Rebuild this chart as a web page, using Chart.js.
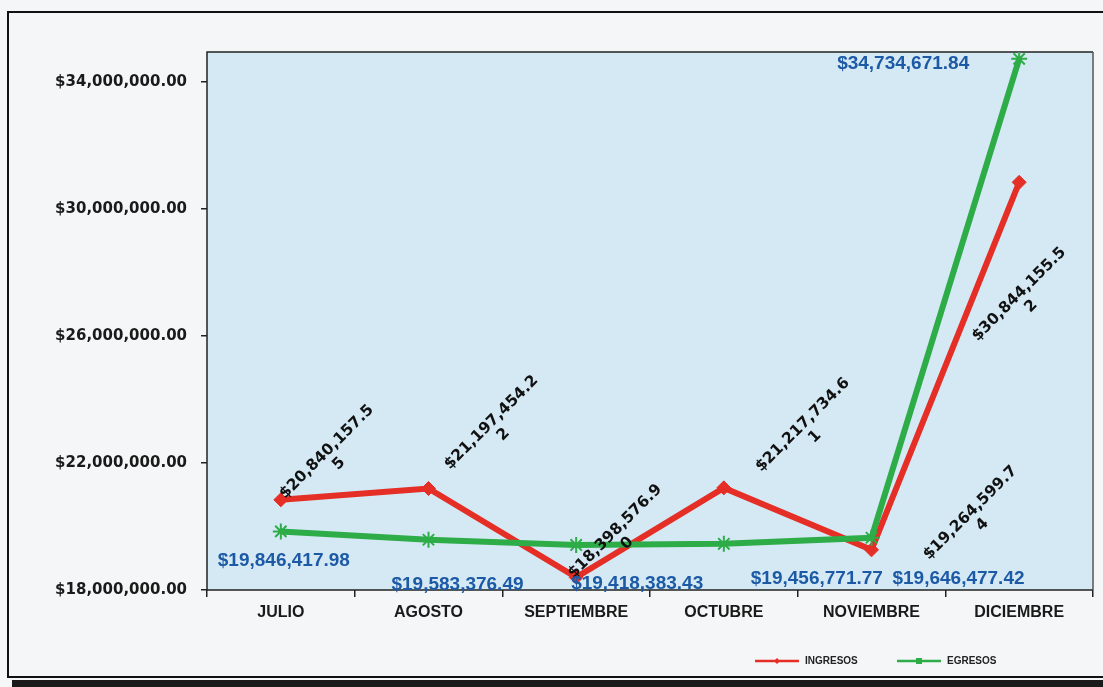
<!DOCTYPE html>
<html>
<head>
<meta charset="utf-8">
<script src="https://cdn.jsdelivr.net/npm/chart.js@4.4.1/dist/chart.umd.min.js"></script>
<style>
  html, body { margin: 0; padding: 0; background: #f5f6f7; }
  #wrap { width: 1103px; height: 687px; position: relative; }
</style>
</head>
<body>
<div id="wrap"><canvas id="c" width="1103" height="687"></canvas></div>
<script>
// ---- data ----
const categories = ['JULIO', 'AGOSTO', 'SEPTIEMBRE', 'OCTUBRE', 'NOVIEMBRE', 'DICIEMBRE'];
const ingresos = [20840157.55, 21197454.22, 18398576.90, 21217734.61, 19264599.74, 30844155.52];
const egresos  = [19846417.98, 19583376.49, 19418383.43, 19456771.77, 19646477.42, 34734671.84];
const yTicks   = [18000000, 22000000, 26000000, 30000000, 34000000];
const seriesNames = ['INGRESOS', 'EGRESOS'];

// ---- styling ----
const RED = '#e42e26';
const GREEN = '#2dac48';
const BLUE = '#1d5aa6';
const PLOT_BG = '#d5e9f4';
// label offsets (px) relative to each point
const ingOffsets = [[52,-42],[69,-60],[45,-40],[85,-57],[105,-31],[6,118]];
const egrOffsets = [[3,29],[29,45],[61,39],[93,35],[87,41],[-116,5]];

function money(v) {
  return '$' + v.toLocaleString('en-US', {minimumFractionDigits: 2, maximumFractionDigits: 2});
}

const framePlugin = {
  id: 'frame',
  beforeDraw(chart) {
    const ctx = chart.ctx;
    ctx.save();
    ctx.fillStyle = '#f5f6f7';
    ctx.fillRect(0, 0, chart.width, chart.height);
    ctx.strokeStyle = '#111';
    ctx.lineWidth = 2;
    ctx.beginPath();
    ctx.moveTo(1200, 12);
    ctx.lineTo(8, 12);
    ctx.lineTo(8, 677);
    ctx.lineTo(1200, 677);
    ctx.stroke();
    ctx.fillStyle = '#1a1a1a';
    ctx.fillRect(12, 680, chart.width, 8);
    const a = chart.chartArea;
    ctx.fillStyle = PLOT_BG;
    ctx.fillRect(a.left, a.top, a.right - a.left, a.bottom - a.top);
    ctx.restore();
  },
  beforeDatasetsDraw(chart) {
    const ctx = chart.ctx, a = chart.chartArea;
    ctx.save();
    ctx.lineWidth = 1.5;
    ctx.strokeStyle = '#222';
    ctx.beginPath();
    ctx.moveTo(a.right, a.top);
    ctx.lineTo(a.left, a.top);
    ctx.lineTo(a.left, a.bottom);
    ctx.lineTo(a.right, a.bottom);
    ctx.stroke();
    ctx.strokeStyle = '#555';
    ctx.beginPath();
    ctx.moveTo(a.right, a.top);
    ctx.lineTo(a.right, a.bottom);
    ctx.stroke();
    ctx.restore();
  }
};

const labelPlugin = {
  id: 'valueLabels',
  afterDatasetsDraw(chart) {
    const ctx = chart.ctx;
    ctx.save();
    // INGRESOS labels: black, rotated, wrapped
    const mi = chart.getDatasetMeta(0);
    ctx.font = 'bold 15.5px "DejaVu Sans"';
    ctx.fillStyle = '#111';
    ctx.textAlign = 'center';
    ctx.textBaseline = 'middle';
    mi.data.forEach((pt, i) => {
      const s = money(ingresos[i]);
      const l1 = s.slice(0, -1), l2 = s.slice(-1);
      ctx.save();
      ctx.translate(pt.x + ingOffsets[i][0], pt.y + ingOffsets[i][1]);
      ctx.rotate(-Math.PI / 4);
      ctx.fillText(l1, 0, -8.5);
      ctx.fillText(l2, 0, 8.5);
      ctx.restore();
    });
    // EGRESOS labels: blue, horizontal
    const me = chart.getDatasetMeta(1);
    ctx.font = 'bold 19px "Liberation Sans", Arial';
    ctx.fillStyle = BLUE;
    me.data.forEach((pt, i) => {
      ctx.fillText(money(egresos[i]), pt.x + egrOffsets[i][0], pt.y + egrOffsets[i][1]);
    });
    ctx.restore();
  }
};

const legendPlugin = {
  id: 'customLegend',
  afterDraw(chart) {
    const ctx = chart.ctx;
    const y = 661;
    const items = [
      {name: seriesNames[0], color: RED, x: 755, marker: 'diamond'},
      {name: seriesNames[1], color: GREEN, x: 897, marker: 'square'}
    ];
    ctx.save();
    items.forEach(it => {
      ctx.strokeStyle = it.color;
      ctx.lineWidth = 2.5;
      ctx.beginPath();
      ctx.moveTo(it.x, y);
      ctx.lineTo(it.x + 44, y);
      ctx.stroke();
      ctx.fillStyle = it.color;
      const cx = it.x + 22;
      if (it.marker === 'diamond') {
        ctx.beginPath();
        ctx.moveTo(cx, y - 3); ctx.lineTo(cx + 3, y); ctx.lineTo(cx, y + 3); ctx.lineTo(cx - 3, y);
        ctx.closePath(); ctx.fill();
      } else {
        ctx.fillRect(cx - 3, y - 3, 6, 6);
      }
      ctx.fillStyle = '#222';
      ctx.font = 'bold 10px "Liberation Sans", Arial';
      ctx.textAlign = 'left';
      ctx.textBaseline = 'middle';
      ctx.fillText(it.name, it.x + 50, y);
    });
    ctx.restore();
  }
};

new Chart(document.getElementById('c'), {
  type: 'line',
  data: {
    labels: categories,
    datasets: [
      {
        label: seriesNames[0],
        data: ingresos,
        borderColor: RED,
        backgroundColor: RED,
        borderWidth: 6,
        pointStyle: 'rectRot',
        pointRadius: 7,
        pointBorderWidth: 1,
        pointBackgroundColor: RED,
        tension: 0,
        order: 1
      },
      {
        label: seriesNames[1],
        data: egresos,
        borderColor: GREEN,
        backgroundColor: GREEN,
        borderWidth: 6,
        pointStyle: 'star',
        pointRadius: 8,
        pointBorderWidth: 2,
        pointBorderColor: GREEN,
        tension: 0,
        order: 0
      }
    ]
  },
  options: {
    responsive: false,
    animation: false,
    events: [],
    layout: { padding: { left: 0, right: 10, top: 52, bottom: 0 } },
    plugins: { legend: { display: false }, tooltip: { enabled: false } },
    scales: {
      x: {
        offset: true,
        grid: { offset: true, drawOnChartArea: false, drawTicks: true, tickLength: 7, color: '#222', lineWidth: 1.5 },
        border: { display: false },
        ticks: { color: '#1a1a1a', font: { family: '"Liberation Sans", Arial', size: 16, weight: 'bold' }, padding: 6, maxRotation: 0, autoSkip: false },
        afterFit(s) { s.height = 97; }
      },
      y: {
        min: 18000000,
        max: 34950000,
        grid: { drawOnChartArea: false, drawTicks: true, tickLength: 6, color: '#222', lineWidth: 1.5 },
        border: { display: false },
        afterBuildTicks(s) { s.ticks = yTicks.map(v => ({ value: v })); },
        ticks: {
          color: '#1a1a1a',
          padding: 14,
          font: { family: '"DejaVu Sans"', size: 15, weight: 'bold' },
          callback: v => money(v)
        },
        afterFit(s) { s.width = 207; }
      }
    }
  },
  plugins: [framePlugin, labelPlugin, legendPlugin]
});
</script>
</body>
</html>
